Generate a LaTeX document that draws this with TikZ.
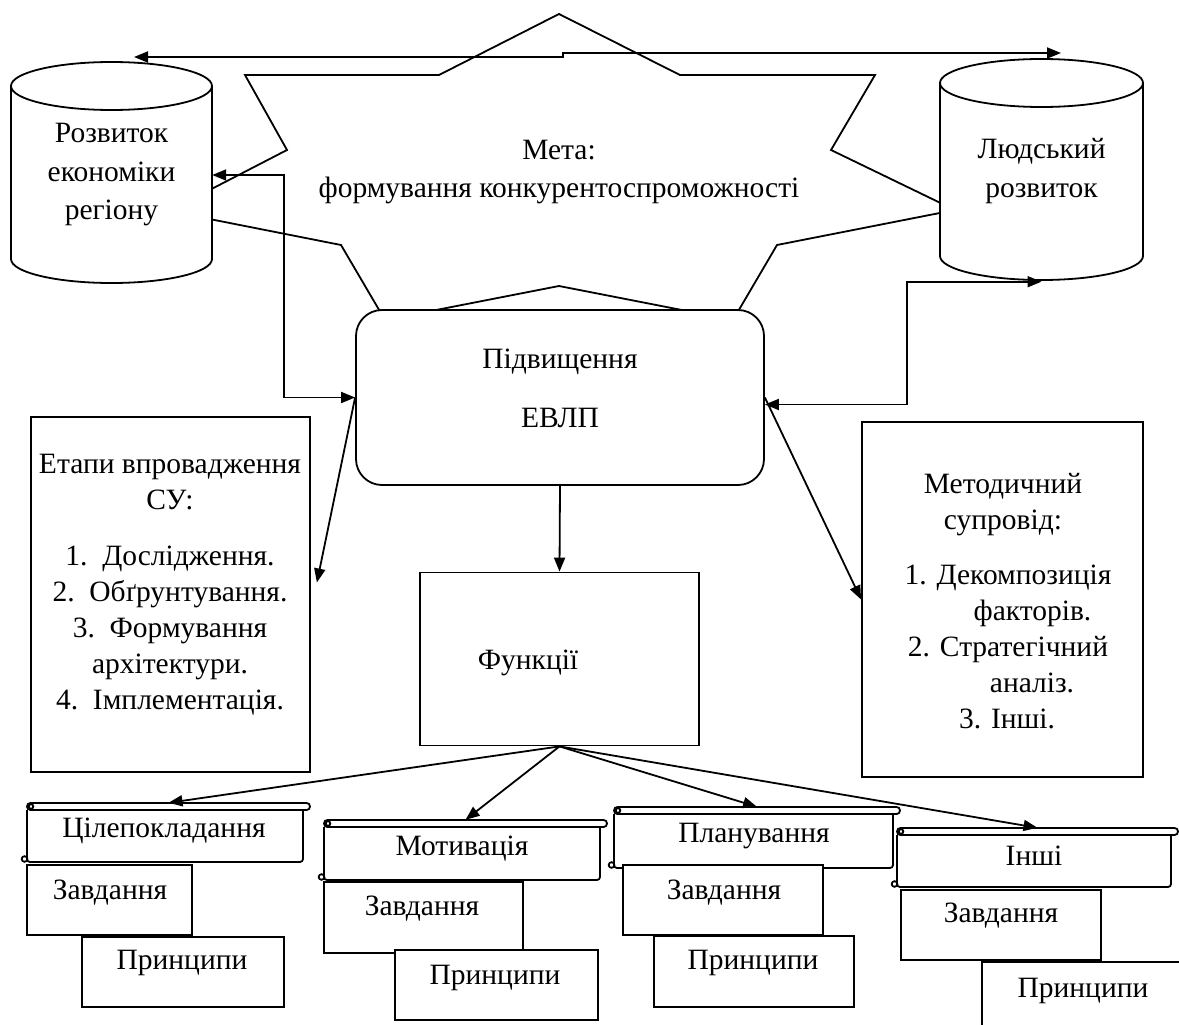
\documentclass[tikz,border=0pt]{standalone}
\usepackage{fontspec}
\setmainfont{Liberation Serif}
\usetikzlibrary{arrows.meta,calc}
\newcommand\fntA{\fontsize{29.5pt}{36pt}\selectfont}
\newcommand\fntB{\fontsize{29.5pt}{38.5pt}\selectfont}
\tikzset{
  ln/.style={line width=1.8pt, draw=black},
  boxnode/.style={ln, rectangle, fill=white, inner sep=0pt},
  txt/.style={inner sep=0pt, align=center, font=\fntA},
  tip/.style={-{Triangle[length=14pt,width=11pt]}},
  tips/.style={{Triangle[length=14pt,width=11pt]}-{Triangle[length=14pt,width=11pt]}},
}
% cylinder outline: cx rx ytop ybot ry
\newcommand\cylshape[5]{%
  \draw[ln, fill=white] ({#1-#2},#3) -- ({#1-#2},#4)
    .. controls ({#1-#2},{#4+0.5523*#5}) and ({#1-0.5523*#2},{#4+#5}) .. (#1,{#4+#5})
    .. controls ({#1+0.5523*#2},{#4+#5}) and ({#1+#2},{#4+0.5523*#5}) .. ({#1+#2},#4)
    -- ({#1+#2},#3);
  \draw[ln, fill=white] (#1,#3) ellipse [x radius=#2pt, y radius=#5pt];
}
% scroll: name x0 y0 x1 y1
\newcommand\scrl[5]{%
  \node[inner sep=0pt, minimum width={#4pt-#2pt}, minimum height={#5pt-#3pt}] (#1) at ({(#2+#4)/2},{(#3+#5)/2}) {};
  \draw[ln, fill=white, rounded corners=3pt] (#2,{#3+7}) -- (#2,#5) -- ({#4-7},#5) -- ({#4-7},{#3+7});
  \draw[ln, fill=white, rounded corners=3.4pt] (#2,#3) rectangle (#4,{#3+7});
  \draw[ln] ({#2+4},{#3+3.5}) circle (2.3pt);
  \draw[ln] ({#2-2.5},{#5-3}) circle (2.8pt);
}
\begin{document}
\begin{tikzpicture}[x=1pt,y=-1pt]
\useasboundingbox (0,0) rectangle (1179,1025);
\clip (0,0) rectangle (1179,1025);
\fill[white] (0,0) rectangle (1179,1025);

% star (goal)
\draw[ln, fill=white] (559,14) -- (680,75) -- (875,75) -- (831,150) -- (955,210)
  -- (777,245) -- (733,320) -- (559,286) -- (385,320) -- (341,245) -- (169,211)
  -- (287,150) -- (245,75) -- (439,75) -- cycle;
\node[txt, font=\fontsize{29.5pt}{38pt}\selectfont] (goal) at (559,172) {Мета:\\формування конкурентоспроможності};

% cylinders
\cylshape{111.5}{100.5}{86}{259}{24}
\node[txt, font=\fntB, minimum width=201pt, minimum height=221pt] (cylL) at (111.5,175) {Розвиток\\економіки\\регіону};
\cylshape{1041.5}{101.5}{83}{256}{24}
\node[txt, font=\fntB, minimum width=203pt, minimum height=221pt] (cylR) at (1041.5,171) {Людський\\розвиток};

% central rounded rectangle
\node[boxnode, rounded corners=26pt, minimum width=408pt, minimum height=175pt] (evlp) at (560,397.5) {};
\node[txt] (evlpt) at (560,388.5) {Підвищення\\[23pt]ЕВЛП};

% side boxes
\node[boxnode, minimum width=279pt, minimum height=355pt] (etapy) at (170.5,594.5) {};
\node[txt] (etapyt) at (170,585) {Етапи впровадження\\СУ:\\[20pt]1.~~Дослідження.\\2.~~Обґрунтування.\\3.~~Формування\\архітектури.\\4.~~Імплементація.};
\node[boxnode, minimum width=281pt, minimum height=355pt] (metod) at (1002.5,599.5) {};
\node[txt] (metodt) at (1003,601) {Методичний\\супровід:\\[19pt]\hspace*{10pt}1. Декомпозиція\\\hspace*{59pt}факторів.\\\hspace*{10pt}2. Стратегічний\\\hspace*{58pt}аналіз.\\\hspace*{8pt}3. Інші.};

% functions box
\node[boxnode, minimum width=279pt, minimum height=173pt] (func) at (559.5,659) {};
\node[txt] (funct) at (528,663) {Функції};

% scroll groups
\scrl{s1}{27}{803}{310}{862}
\node[txt] (s1t) at (164,831) {Цілепокладання};
\node[boxnode, minimum width=165pt, minimum height=70pt] (z1) at (109.5,900) {};
\node[txt] (z1t) at (110,893) {Завдання};
\node[boxnode, minimum width=202pt, minimum height=70pt] (p1) at (183,972) {};
\node[txt] (p1t) at (182,963) {Принципи};

\scrl{s2}{324}{820}{607}{880}
\node[txt] (s2t) at (462,849) {Мотивація};
\node[boxnode, minimum width=199pt, minimum height=71pt] (z2) at (423.5,917.5) {};
\node[txt] (z2t) at (422,909) {Завдання};
\node[boxnode, minimum width=203pt, minimum height=70pt] (p2) at (496.5,985) {};
\node[txt] (p2t) at (495,978) {Принципи};

\scrl{s3}{614}{807}{900}{868}
\node[txt] (s3t) at (754,836) {Планування};
\node[boxnode, minimum width=200pt, minimum height=70pt] (z3) at (723,900) {};
\node[txt] (z3t) at (724,893) {Завдання};
\node[boxnode, minimum width=200pt, minimum height=71pt] (p3) at (754,971.5) {};
\node[txt] (p3t) at (753,963) {Принципи};

\scrl{s4}{897}{828}{1178}{887}
\node[txt] (s4t) at (1034,856) {Інші};
\node[boxnode, minimum width=200pt, minimum height=70pt] (z4) at (1001,925) {};
\node[txt] (z4t) at (1001,916) {Завдання};
\node[boxnode, minimum width=218pt, minimum height=78pt] (p4) at (1091,1001) {};
\node[txt] (p4t) at (1083,991) {Принципи};

% connectors
\coordinate (tl) at (134,57);
\coordinate (tr) at (1061,53);
\draw[ln, tips] (tl) -- (563,57) -- (563,53) -- (tr);
\draw[ln, tips] (cylL.east) -- ++(72,0) |- (evlp.west);
\draw[ln, tips] ($(evlp.east)+(0,7)$) -- ++(142,0) |- (cylR.south);
\draw[ln, tip] (evlp.west) -- ([xshift=6pt,yshift=12pt]etapy.east);
\draw[ln, tip] (evlp.east) -- (metod.west);
\draw[ln, tip] (evlp.south) -- (func.north);
\draw[ln, tip] (func.south) -- (s1.north);
\draw[ln, tip] (func.south) -- (s2.north);
\draw[ln, tip] (func.south) -- (s3.north);
\draw[ln, tip] (func.south) -- (s4.north);
\end{tikzpicture}
\end{document}
